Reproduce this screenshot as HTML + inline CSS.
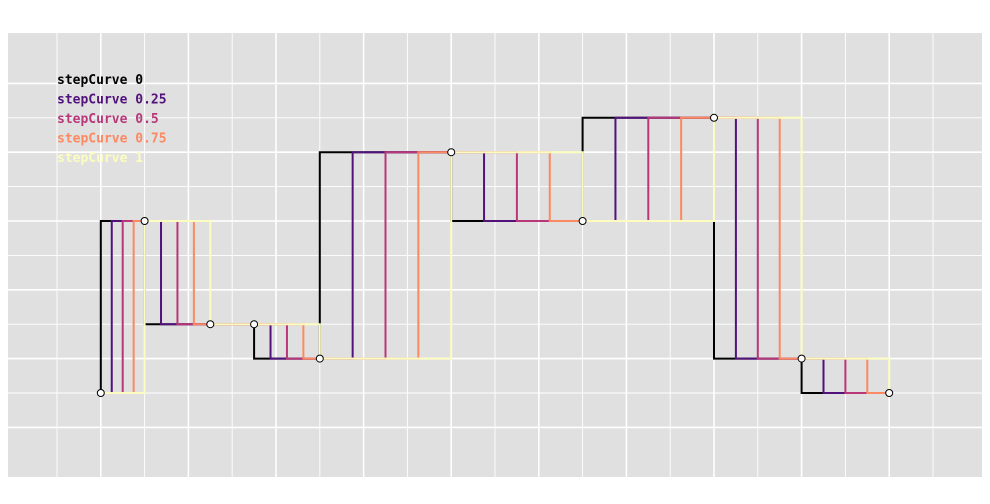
<!DOCTYPE html>
<html><head><meta charset="utf-8"><style>
body{margin:0;background:#fff;width:990px;height:504px;overflow:hidden}
svg{display:block}
</style></head><body>
<svg id="chart" width="990" height="504" xmlns="http://www.w3.org/2000/svg">
<rect x="8" y="33" width="974" height="444" fill="#e0e0e0"/>
<g id="grid"></g>
<g id="lines"></g>
<g id="pts"></g>
<g id="legend" font-family="'DejaVu Sans Mono','Liberation Mono',monospace" font-size="13"></g>
</svg>
<script>
const xValues = [2, 3, 4.5, 5.5, 7, 10, 13, 16, 18, 20];
const yValues = [1, 6, 3, 3, 2, 8, 6, 9, 2, 1];
const tValues = [0, 0.25, 0.5, 0.75, 1];
const seriesColors = ["#000000", "#51127c", "#b73779", "#fc8961", "#fcfdbf"];
const legendLabels = ["stepCurve 0", "stepCurve 0.25", "stepCurve 0.5", "stepCurve 0.75", "stepCurve 1"];

const NS = "http://www.w3.org/2000/svg";
const sx = v => 13.2 + 43.8 * v;
const sy = v => 427.4 - 34.4 * v;

const grid = document.getElementById('grid');
for (let i = 1; i <= 21; i++) {
  const l = document.createElementNS(NS, 'line');
  
  
  const x = sx(i);
  l.setAttribute('x1', x); l.setAttribute('x2', x); l.setAttribute('y1', 33); l.setAttribute('y2', 477);
  l.setAttribute('stroke', '#fff'); l.setAttribute('stroke-width', i % 2 === 0 ? 1.6 : 0.9);
  grid.appendChild(l);
}
for (let j = 0; j <= 10; j++) {
  const y = sy(j);
  const l = document.createElementNS(NS, 'line');
  
  
  l.setAttribute('x1', 8); l.setAttribute('x2', 982); l.setAttribute('y1', y); l.setAttribute('y2', y);
  l.setAttribute('stroke', '#fff'); l.setAttribute('stroke-width', j % 2 === 0 ? 1.6 : 0.9);
  grid.appendChild(l);
}

const lines = document.getElementById('lines');
tValues.forEach((t, k) => {
  let d = `M${sx(xValues[0])},${sy(yValues[0])}`;
  for (let i = 1; i < xValues.length; i++) {
    const xm = sx(xValues[i-1]) + (sx(xValues[i]) - sx(xValues[i-1])) * t;
    d += `H${xm}V${sy(yValues[i])}H${sx(xValues[i])}`;
  }
  const p = document.createElementNS(NS, 'path');
  
  
  p.setAttribute('d', d); p.setAttribute('fill', 'none');
  p.setAttribute('stroke', seriesColors[k]); p.setAttribute('stroke-width', 2);
  lines.appendChild(p);
});

const pts = document.getElementById('pts');
xValues.forEach((xv, i) => {
  const c = document.createElementNS(NS, 'circle');
  
  
  c.setAttribute('cx', sx(xv)); c.setAttribute('cy', sy(yValues[i])); c.setAttribute('r', 3.5);
  c.setAttribute('fill', '#fff'); c.setAttribute('stroke', '#000'); c.setAttribute('stroke-width', 1);
  pts.appendChild(c);
});

const legend = document.getElementById('legend');
legendLabels.forEach((lab, k) => {
  const tx = document.createElementNS(NS, 'text');
  
  
  tx.setAttribute('x', 57); tx.setAttribute('y', 84 + k * 19.5);
  tx.setAttribute('fill', seriesColors[k]);
  tx.setAttribute('font-weight', 'bold');
  tx.textContent = lab;
  legend.appendChild(tx);
});
</script>
</body></html>
